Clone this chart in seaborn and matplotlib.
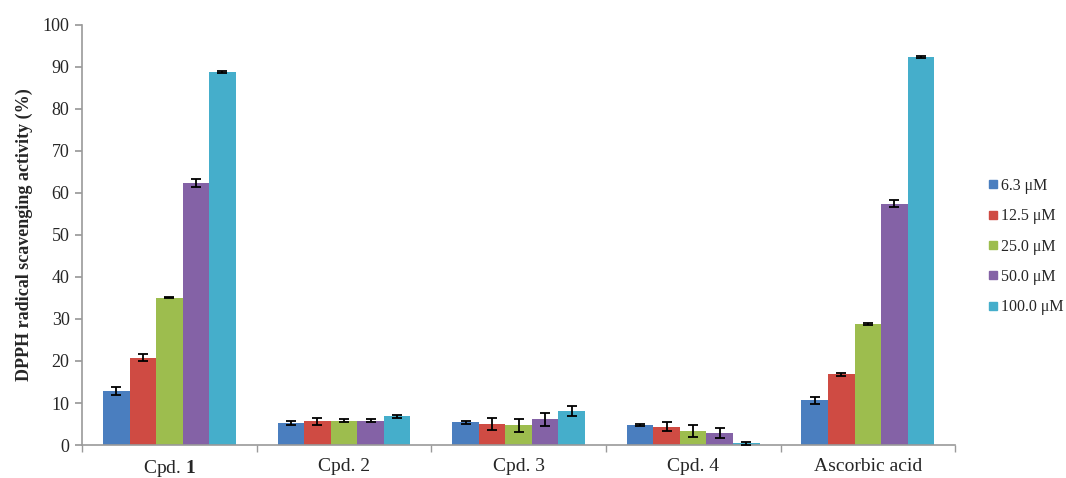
import numpy as np
import pandas as pd
import matplotlib
matplotlib.use("Agg")
import matplotlib.pyplot as plt
from matplotlib.lines import Line2D
import seaborn as sns

# Compounds tested and concentrations
categories = ["Cpd. 1", "Cpd. 2", "Cpd. 3", "Cpd. 4", "Ascorbic acid"]
concentrations = ["6.3 μM", "12.5 μM", "25.0 μM", "50.0 μM", "100.0 μM"]

# Mean DPPH scavenging activity (%) per concentration, one value per compound
act_6_3 = [12.9, 5.2, 5.4, 4.8, 10.6]
act_12_5 = [20.8, 5.6, 5.0, 4.4, 16.8]
act_25_0 = [35.1, 5.8, 4.7, 3.4, 28.8]
act_50_0 = [62.3, 5.8, 6.1, 2.9, 57.4]
act_100_0 = [88.8, 6.8, 8.1, 0.4, 92.3]

# Standard deviations
sd_6_3 = [0.9, 0.5, 0.3, 0.3, 0.8]
sd_12_5 = [0.8, 0.8, 1.5, 1.0, 0.3]
sd_25_0 = [0.2, 0.4, 1.6, 1.4, 0.2]
sd_50_0 = [1.0, 0.3, 1.5, 1.2, 0.8]
sd_100_0 = [0.3, 0.4, 1.1, 0.3, 0.3]

colors = ["#4A7EBF", "#CF4B43", "#9DBD4E", "#8462A6", "#45AECB"]

means = [act_6_3, act_12_5, act_25_0, act_50_0, act_100_0]
sds = [sd_6_3, sd_12_5, sd_25_0, sd_50_0, sd_100_0]

rows = []
for conc, vals, errs in zip(concentrations, means, sds):
    for cat, v, e in zip(categories, vals, errs):
        rows.append({"compound": cat, "conc": conc, "activity": v, "sd": e})
df = pd.DataFrame(rows)

sns.set_theme(style="white")
plt.rcParams["font.family"] = ["Liberation Serif", "DejaVu Serif"]
plt.rcParams["mathtext.fontset"] = "custom"
plt.rcParams["mathtext.rm"] = "Liberation Serif"
plt.rcParams["mathtext.bf"] = "Liberation Serif:bold"

fig = plt.figure(figsize=(10.66, 4.78), dpi=100)
ax = fig.add_axes([0.077, 0.069, 0.819, 0.879])

sns.barplot(data=df, x="compound", y="activity", hue="conc",
            order=categories, hue_order=concentrations,
            palette=colors, width=0.76, gap=0, errorbar=None,
            saturation=1, linewidth=0, ax=ax, legend=False)

# Error bars on each bar, taken from the drawn bar geometry
for cont, errs in zip(ax.containers, sds):
    for bar, e in zip(cont, errs):
        cx = bar.get_x() + bar.get_width() / 2
        ax.errorbar(cx, bar.get_height(), yerr=e, fmt="none",
                    ecolor="black", elinewidth=1.3, capsize=3.5,
                    capthick=1.3, zorder=5)

ax.set_ylim(0, 100)
ax.set_xlim(-0.5, len(categories) - 0.5)
ax.set_yticks(np.arange(0, 101, 10))
ax.tick_params(axis="y", labelsize=13, length=5, color="#9a9a9a",
               direction="out", left=True, pad=4)

labels = [r"Cpd. $\mathbf{1}$", "Cpd. 2", "Cpd. 3", "Cpd. 4", "Ascorbic acid"]
ax.set_xticks(range(len(categories)))
ax.set_xticklabels(labels, fontsize=14)
ax.tick_params(axis="x", length=0, pad=9)
ax.set_xticks(np.arange(-0.5, len(categories), 1), minor=True)
ax.tick_params(axis="x", which="minor", length=5, color="#9a9a9a",
               direction="out", bottom=True)

ax.set_xlabel("")
ax.set_ylabel("DPPH radical scavenging activity (%)", fontsize=13,
              fontweight="bold", labelpad=7)

for side in ["top", "right"]:
    ax.spines[side].set_visible(False)
for side in ["left", "bottom"]:
    ax.spines[side].set_color("#9a9a9a")
    ax.spines[side].set_linewidth(1.2)

handles = [Line2D([0], [0], marker="s", linestyle="", markersize=6,
                  markerfacecolor=c, markeredgecolor=c) for c in colors]
fig.legend(handles, concentrations, loc="center left",
           bbox_to_anchor=(0.912, 0.484), frameon=False, fontsize=11.5,
           handletextpad=0.1, labelspacing=0.9, handlelength=0.8)

fig.savefig("out.png", dpi=100)
